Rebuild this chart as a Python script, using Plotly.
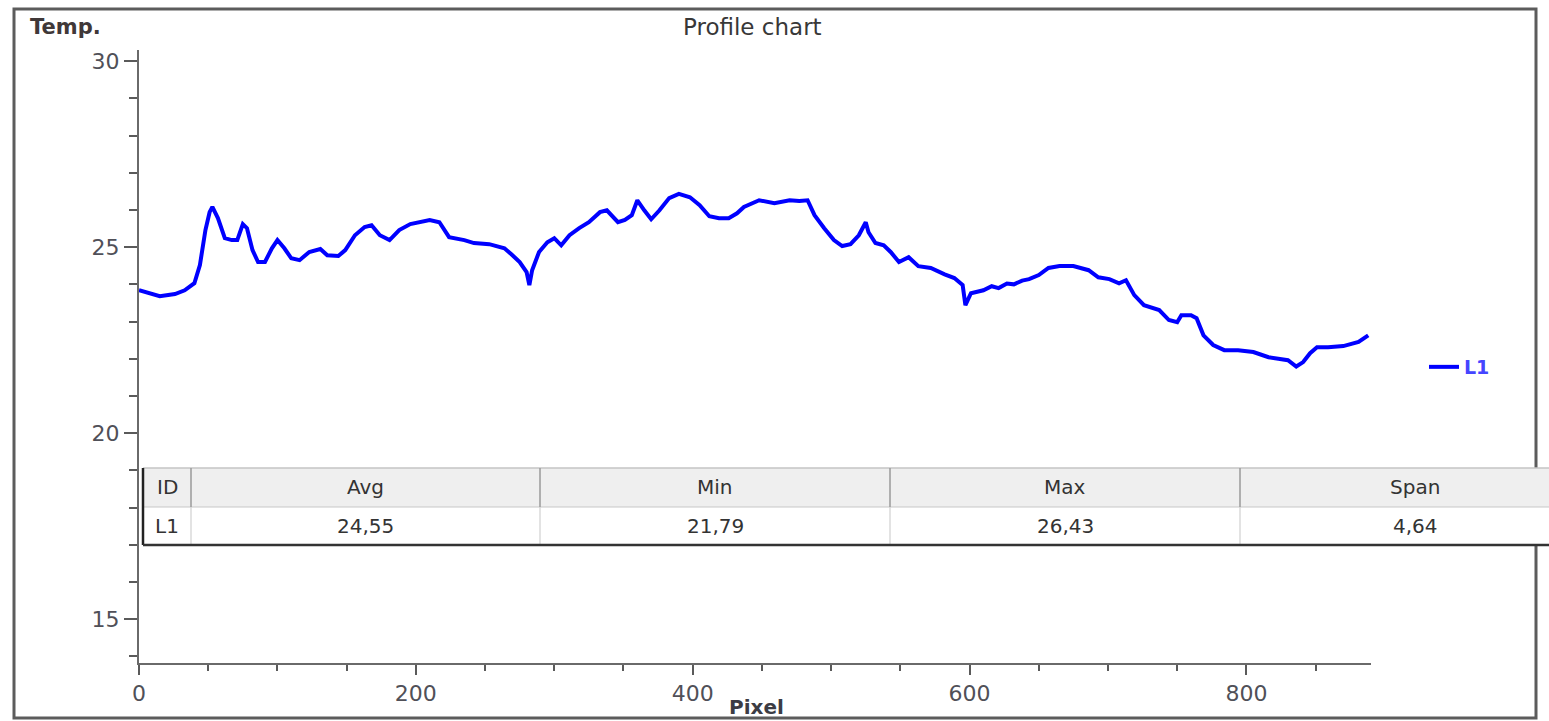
import plotly.graph_objects as go

# ---- profile data: temperature sampled along the line L1 ----
pixel = [0, 8, 15, 26, 33, 40, 44, 48, 51, 53, 57, 62, 67, 71, 75, 78, 82, 86, 91, 96,
         100, 105, 110, 116, 123, 131, 136, 144, 149, 156, 163, 168, 174, 181, 188, 196,
         203, 210, 217, 224, 235, 242, 253, 264, 269, 275, 280, 282, 284, 289, 295, 300,
         305, 311, 318, 325, 333, 338, 346, 351, 356, 360, 365, 370, 376, 383, 390, 398,
         405, 412, 419, 426, 432, 437, 448, 459, 470, 477, 483, 488, 495, 502, 508, 514,
         520, 525, 527, 532, 538, 543, 549, 556, 563, 572, 582, 589, 595, 597, 601, 610,
         616, 621, 627, 632, 638, 643, 650, 657, 665, 675, 686, 693, 701, 708, 713, 719,
         726, 737, 744, 750, 753, 760, 764, 769, 776, 784, 794, 805, 816, 823, 830, 836,
         841, 846, 851, 859, 870, 881, 888]
temp = [23.84, 23.74, 23.68, 23.74, 23.84, 24.03, 24.52, 25.46, 25.94, 26.08, 25.78,
        25.24, 25.19, 25.19, 25.62, 25.51, 24.92, 24.60, 24.60, 24.97, 25.19, 24.97,
        24.70, 24.65, 24.87, 24.95, 24.78, 24.76, 24.92, 25.32, 25.54, 25.59, 25.32,
        25.19, 25.46, 25.62, 25.67, 25.73, 25.67, 25.27, 25.19, 25.11, 25.08, 24.97,
        24.81, 24.60, 24.33, 23.98, 24.38, 24.87, 25.13, 25.24, 25.05, 25.32, 25.51,
        25.67, 25.94, 25.99, 25.67, 25.73, 25.86, 26.26, 25.99, 25.75, 25.99, 26.32,
        26.43, 26.34, 26.13, 25.83, 25.78, 25.78, 25.91, 26.08, 26.26, 26.18, 26.26,
        26.24, 26.26, 25.86, 25.51, 25.19, 25.03, 25.08, 25.32, 25.67, 25.40, 25.11,
        25.05, 24.87, 24.60, 24.73, 24.49, 24.44, 24.27, 24.17, 23.98, 23.44, 23.76,
        23.84, 23.95, 23.90, 24.02, 24.00, 24.10, 24.14, 24.25, 24.44, 24.49, 24.49,
        24.38, 24.19, 24.14, 24.03, 24.11, 23.71, 23.44, 23.31, 23.04, 22.98, 23.17,
        23.17, 23.09, 22.63, 22.37, 22.23, 22.23, 22.18, 22.04, 21.99, 21.96, 21.79,
        21.91, 22.15, 22.31, 22.31, 22.34, 22.45, 22.63]

# ---- statistics table ----
table_header = ["ID", "Avg", "Min", "Max", "Span"]
line_id = "L1"
stat_values = [24.55, 21.79, 26.43, 4.64]

# ---- axis ticks ----
x_ticks = [0, 200, 400, 600, 800]
y_ticks = [15, 20, 25, 30]

# ---- page geometry (pixels) ----
W, H = 1549, 721
ML, MR, MT, MB = 139, 178, 50, 58
PW, PH = W - ML - MR, H - MT - MB


def fx(p):
    return (p - ML) / PW


def fy(p):
    return (H - MB - p) / PH


FONT = "DejaVu Sans"
TXT = "#383838"

fig = go.Figure()
fig.add_trace(go.Scatter(
    x=pixel, y=temp, mode="lines", name="<b>" + line_id + "</b>",
    line=dict(color="#0000ff", width=4),
))

shapes = []
annotations = []

# outer frame
shapes.append(dict(type="rect", xref="paper", yref="paper",
                   x0=fx(14), x1=fx(1536), y0=fy(9), y1=fy(718),
                   line=dict(color="#5c5c5c", width=3), fillcolor="rgba(0,0,0,0)",
                   layer="below"))

# statistics table
t_left, t_right = 143, 1560
t_top, t_mid, t_bot = 468, 507, 545
col_edges = [143, 191, 540, 890, 1240, 1590]
shapes.append(dict(type="rect", xref="paper", yref="paper",
                   x0=fx(t_left), x1=fx(t_right), y0=fy(t_top), y1=fy(t_mid),
                   line=dict(width=0), fillcolor="#efefef", layer="above"))
shapes.append(dict(type="rect", xref="paper", yref="paper",
                   x0=fx(t_left), x1=fx(t_right), y0=fy(t_mid), y1=fy(t_bot),
                   line=dict(width=0), fillcolor="#ffffff", layer="above"))
for yy, col, wd in [(t_top, "#c4c4c4", 1.5), (t_mid, "#c8c8c8", 1.2)]:
    shapes.append(dict(type="line", xref="paper", yref="paper",
                       x0=fx(t_left), x1=fx(t_right), y0=fy(yy), y1=fy(yy),
                       line=dict(color=col, width=wd), layer="above"))
for xe in col_edges[1:-1]:
    shapes.append(dict(type="line", xref="paper", yref="paper",
                       x0=fx(xe), x1=fx(xe), y0=fy(t_top), y1=fy(t_mid),
                       line=dict(color="#9a9a9a", width=1.5), layer="above"))
    shapes.append(dict(type="line", xref="paper", yref="paper",
                       x0=fx(xe), x1=fx(xe), y0=fy(t_mid), y1=fy(t_bot),
                       line=dict(color="#d0d0d0", width=1.2), layer="above"))
shapes.append(dict(type="line", xref="paper", yref="paper",
                   x0=fx(t_left), x1=fx(t_left), y0=fy(t_top), y1=fy(t_bot),
                   line=dict(color="#222222", width=2.5), layer="above"))
shapes.append(dict(type="line", xref="paper", yref="paper",
                   x0=fx(t_left), x1=fx(t_right), y0=fy(t_bot), y1=fy(t_bot),
                   line=dict(color="#333333", width=2.5), layer="above"))

row_values = [line_id] + [f"{v:.2f}".replace(".", ",") for v in stat_values]
for i, (head, val) in enumerate(zip(table_header, row_values)):
    cx = (col_edges[i] + col_edges[i + 1]) / 2
    for text, yy in [(head, (t_top + t_mid) / 2), (val, (t_mid + t_bot) / 2)]:
        annotations.append(dict(text=text, xref="paper", yref="paper",
                                x=fx(cx), y=fy(yy), xanchor="center", yanchor="middle",
                                showarrow=False, font=dict(family=FONT, size=20, color="#333333")))

# titles
annotations.append(dict(text="Profile chart", xref="paper", yref="paper",
                        x=fx(752), y=fy(27), xanchor="center", yanchor="middle",
                        showarrow=False, font=dict(family=FONT, size=23, color=TXT)))
annotations.append(dict(text="<b>Temp.</b>", xref="paper", yref="paper",
                        x=fx(28), y=fy(27), xanchor="left", yanchor="middle",
                        showarrow=False, font=dict(family=FONT, size=21, color="#403838")))
annotations.append(dict(text="<b>Pixel</b>", xref="paper", yref="paper",
                        x=fx(756), y=fy(707), xanchor="center", yanchor="middle",
                        showarrow=False, font=dict(family=FONT, size=20, color="#3c3c44")))

fig.update_layout(
    width=W, height=H,
    margin=dict(l=ML, r=MR, t=MT, b=MB, pad=0),
    paper_bgcolor="white", plot_bgcolor="white",
    showlegend=True,
    legend=dict(x=fx(1424), y=fy(367), xanchor="left", yanchor="middle",
                bgcolor="rgba(0,0,0,0)", itemwidth=30,
                font=dict(family=FONT, size=19, color="#4545ff")),
    shapes=shapes, annotations=annotations,
    font=dict(family=FONT),
)

fig.update_xaxes(
    range=[0, 890], tickvals=x_ticks, showgrid=False, zeroline=False,
    showline=True, linecolor="#6a6a6a", linewidth=2,
    ticks="outside", ticklen=10, tickwidth=2, tickcolor="#5a5a5a",
    tickfont=dict(family=FONT, size=22, color="#505058"),
    minor=dict(dtick=50, ticks="outside", ticklen=6, tickwidth=2, tickcolor="#5a5a5a"),
)
fig.update_yaxes(
    range=[13.82, 30.3], tickvals=y_ticks, showgrid=False, zeroline=False,
    showline=True, linecolor="#6a6a6a", linewidth=2,
    ticks="outside", ticklen=13, tickwidth=2, tickcolor="#5a5a5a",
    tickfont=dict(family=FONT, size=22, color="#505058"),
    minor=dict(dtick=1, tick0=0, ticks="outside", ticklen=8, tickwidth=2, tickcolor="#5a5a5a"),
)

fig.write_html("out.html")
